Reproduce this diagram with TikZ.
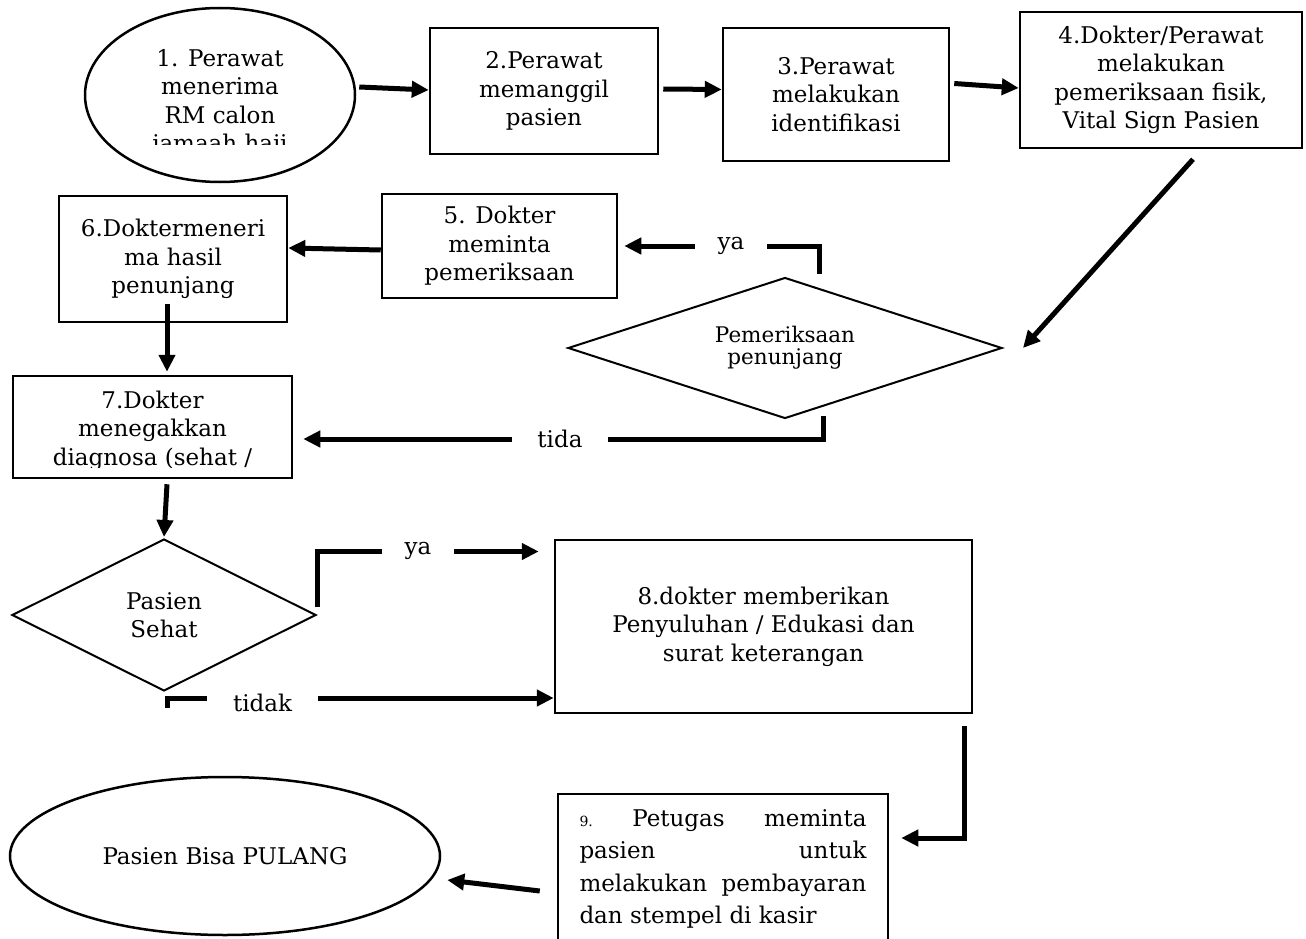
\documentclass[tikz,border=0pt]{standalone}
\usepackage{fontspec}
\setmainfont{DejaVu Serif}
\usetikzlibrary{arrows.meta,shapes.geometric,calc}

\newcommand{\flowfont}{\fontsize{23}{28.5}\selectfont}
\newcommand{\decfont}{\fontsize{21.5}{22}\selectfont}

\begin{document}
\begin{tikzpicture}[x=1pt,y=-1pt,
  box/.style={draw, line width=2.5pt, rectangle, inner sep=0pt, font=\flowfont, align=center},
  oval/.style={draw, line width=2.5pt, ellipse, inner sep=0pt, font=\flowfont, align=center},
  decision/.style={draw, line width=2pt, diamond, inner sep=0pt, align=center},
  lbl/.style={font=\flowfont, align=center, inner sep=0pt},
  gap/.style={fill=white, font=\flowfont, inner sep=0pt, minimum height=12pt},
  flow/.style={line width=5pt, -{Triangle[length=17pt,width=16pt]}},
]
\path[use as bounding box] (0,0) rectangle (1306,939);
\clip (0,0) rectangle (1306,939);

% ---- shapes ----
\node[oval, minimum width=270pt, minimum height=174pt] (e1) at (220,95) {};
\begin{scope}
  \clip (85,0) rectangle (355,145);
  \node[lbl] (e1text) at (220,103) {1. Perawat\\menerima\\RM calon\\jamaah haji};
\end{scope}

\node[box, minimum width=228pt, minimum height=126pt] (b2) at (544,91) {2.Perawat\\memanggil\\pasien};
\node[box, minimum width=226pt, minimum height=133pt] (b3) at (836,94.5) {3.Perawat\\melakukan\\identifikasi};
\node[box, minimum width=282pt, minimum height=136pt] (b4) at (1161,80) {4.Dokter/Perawat\\melakukan\\pemeriksaan fisik,\\Vital Sign Pasien};

\node[box, minimum width=235pt, minimum height=104pt] (b5) at (499.5,246) {5. Dokter\\meminta\\pemeriksaan};
\node[box, minimum width=228pt, minimum height=126pt] (b6) at (173,259) {6.Doktermeneri\\ma hasil\\penunjang};

\node[decision, aspect=3.08, minimum width=434pt, minimum height=141pt, font=\decfont] (d1) at (785,348) {Pemeriksaan\\penunjang};

\node[box, minimum width=279pt, minimum height=102pt] (b7) at (152.5,427) {};
\begin{scope}
  \clip (13,376) rectangle (292,467);
  \node[lbl] (b7text) at (152.5,430.5) {7.Dokter\\menegakkan\\diagnosa (sehat /};
\end{scope}

\node[decision, aspect=2, minimum width=304pt, minimum height=152pt, font=\flowfont] (d2) at (164,615) {Pasien\\Sehat};

\node[box, minimum width=417pt, minimum height=173pt] (b8) at (763.5,626.5) {8.dokter memberikan\\Penyuluhan / Edukasi dan\\surat keterangan};

\node[box, minimum width=330pt, minimum height=150pt] (b9) at (723,869) {\parbox{287pt}{\fontsize{23}{32.5}\selectfont
  \hbox to 287pt{{\fontsize{14}{14}\selectfont 9.}\hfill Petugas\hfill meminta}
  \hbox to 287pt{pasien\hfill untuk}
  \hbox to 287pt{melakukan\hfill pembayaran}
  \hbox to 287pt{dan stempel di kasir\hfill}}};

\node[oval, minimum width=430pt, minimum height=158pt] (e2) at (225,856) {Pasien Bisa PULANG};

% ---- connectors ----
\draw[flow] ($(e1.east)+(3,-8)$) -- ($(b2.west)+(0,-1)$);
\draw[flow] ($(b2.east)+(4,-2)$) -- ($(b3.west)+(0,-5)$);
\draw[flow] ($(b3.east)+(4,-11)$) -- ($(b4.west)+(0,8)$);
\draw[flow] ($(b4.south)+(32,10)$) -- ($(d1.east)+(20,0)$);

\draw[flow] ($(d1.north)+(34,-3)$) |- ($(b5.east)+(6,0)$);
\node[gap, minimum width=72pt] (ya1) at (731,246) {ya};

\draw[flow] ($(b5.west)+(0,4)$) -- ($(b6.east)+(0,-11)$);
\draw[flow] ($(b6.south)+(-6,-19)$) -- ($(b7.north)+(14.5,-3)$);

\draw[flow] ($(d1.south)+(38,-4)$) |- ($(b7.east)+(10,12)$);
\node[gap, minimum width=96pt] (tida) at (560,439) {tida};

\draw[flow] ($(b7.south)+(14.5,5)$) -- ($(d2.north)+(0,-1)$);

\draw[flow] ($(d2.east)+(0,-8)$) |- ($(b8.west)+(-15,-75)$);
\node[gap, minimum width=72pt] (ya2) at (418,551) {ya};

\draw[flow] ($(d2.south)+(3,16)$) |- ($(b8.west)+(0,71.5)$);
\node[gap, minimum width=111pt] (tidak) at (262.5,703) {tidak};

\draw[flow] ($(b8.south east)+(-9,12)$) |- ($(b9.east)+(12,-31)$);
\draw[flow] ($(b9.west)+(-17,22)$) -- ($(e2.east)+(6,24)$);
\end{tikzpicture}
\end{document}
